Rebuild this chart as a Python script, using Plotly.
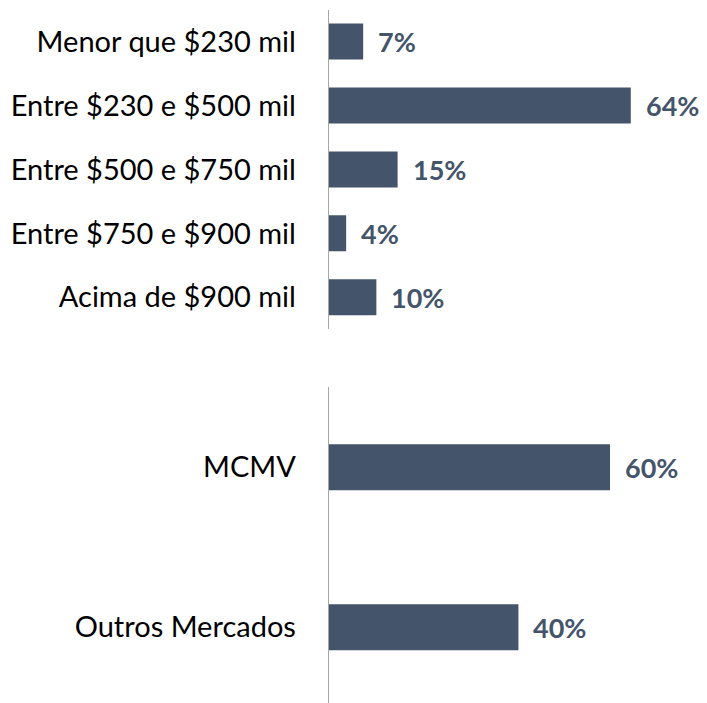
import plotly.graph_objects as go

# Data
faixas = ["Menor que $230 mil", "Entre $230 e $500 mil", "Entre $500 e $750 mil",
          "Entre $750 e $900 mil", "Acima de $900 mil"]
faixas_pct = [7.3, 64.0, 14.6, 3.7, 10.1]
mercados = ["MCMV", "Outros Mercados"]
mercados_pct = [59.6, 40.2]

BAR = "#44546A"
FONT = "Lato"
OFF = 8  # page body margin
W, H = 707 - OFF, 703 - OFF
SIZE = 29
LSIZE = 27

fig = go.Figure()
fig.add_trace(go.Bar(x=faixas_pct, y=faixas, orientation="h", marker=dict(color=BAR, line=dict(width=0)),
                     width=0.5625, xaxis="x", yaxis="y", hoverinfo="skip"))
fig.add_trace(go.Bar(x=mercados_pct, y=mercados, orientation="h", marker=dict(color=BAR, line=dict(width=0)),
                     width=0.2875, xaxis="x2", yaxis="y2", hoverinfo="skip"))

ann = []
for xr, yr, cats, vals in (("x", "y", faixas, faixas_pct), ("x2", "y2", mercados, mercados_pct)):
    for c, v in zip(cats, vals):
        ann.append(dict(x=v, y=c, xref=xr, yref=yr, text=f"<b>{round(v)}%</b>", showarrow=False,
                        xanchor="left", yanchor="middle", xshift=13,
                        font=dict(family=FONT, size=LSIZE, color=BAR)))

ax = 328.7 - OFF
x0 = ax / W
xspan = (W - ax) / 4.72
top_dom = [(H - (329.3 - OFF)) / H, (H - (9.5 - OFF)) / H]
bot_top = 387.3 - OFF
bot_dom = [0, (H - bot_top) / H]
bot_range = [-0.5 + (H - bot_top) / 160.0, -0.5]

xcommon = dict(domain=[x0, 1], range=[0, xspan], showgrid=False, zeroline=False,
               showticklabels=False, showline=False, fixedrange=True)
ycommon = dict(showgrid=False, zeroline=False, showline=True, linecolor="#A6A6A6", linewidth=1,
               ticks="", ticklabelstandoff=26, tickfont=dict(family=FONT, size=SIZE, color="#000000"))

fig.update_layout(
    width=W, height=H, margin=dict(l=0, r=0, t=0, b=0),
    plot_bgcolor="white", paper_bgcolor="white", showlegend=False,
    font=dict(family=FONT),
    xaxis=dict(anchor="y", **xcommon),
    xaxis2=dict(anchor="y2", **xcommon),
    yaxis=dict(domain=top_dom, anchor="x", type="category", categoryorder="array",
               categoryarray=faixas, range=[4.5, -0.5], **ycommon),
    yaxis2=dict(domain=bot_dom, anchor="x2", type="category", categoryorder="array",
                categoryarray=mercados, range=bot_range, **ycommon),
    annotations=ann,
)
fig.write_html("out.html")
